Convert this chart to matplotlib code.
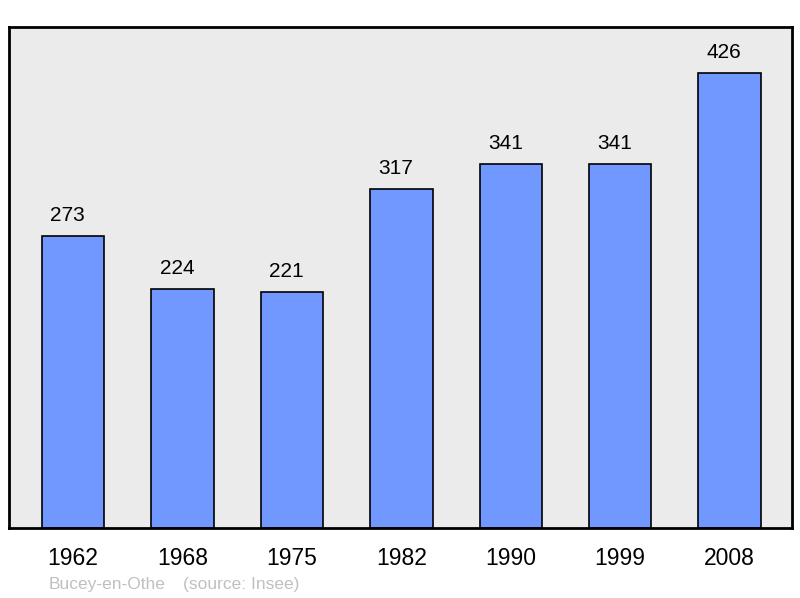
import matplotlib.pyplot as plt

plt.rcParams['font.family'] = ['Liberation Sans', 'DejaVu Sans']

years = ['1962', '1968', '1975', '1982', '1990', '1999', '2008']
population = [273, 224, 221, 317, 341, 341, 426]
commune = 'Bucey-en-Othe'
source = '(source: Insee)'

fig = plt.figure(figsize=(8, 5.98), dpi=100)
ax = fig.add_axes([9 / 800, 70 / 598, 783 / 800, 501 / 598])
ax.set_facecolor('#ebebeb')

x = range(len(years))
ax.bar(x, population, width=0.57, color='#7098ff', edgecolor='black', linewidth=1.2, zorder=2)

# value above each bar (sits a little left of the bar centre in the original)
for xi, val in zip(x, population):
    ax.annotate(str(val), (xi, val), xytext=(-4, 8), textcoords='offset points',
                ha='center', va='bottom', fontsize=15)

ax.set_xlim(-0.585, 6.57)
ax.set_ylim(0, 469)
ax.set_xticks(list(x))
ax.set_xticklabels(years, fontsize=16.5)
ax.tick_params(axis='x', length=0, pad=14)
ax.set_yticks([])
for s in ax.spines.values():
    s.set_linewidth(2)

fig.text(49 / 800, 1 - 584 / 598, commune, color='#c0c0c0', fontsize=12.5, va='center', ha='left')
fig.text(183 / 800, 1 - 584 / 598, source, color='#c0c0c0', fontsize=12.5, va='center', ha='left')

fig.savefig('out.png', dpi=100)
